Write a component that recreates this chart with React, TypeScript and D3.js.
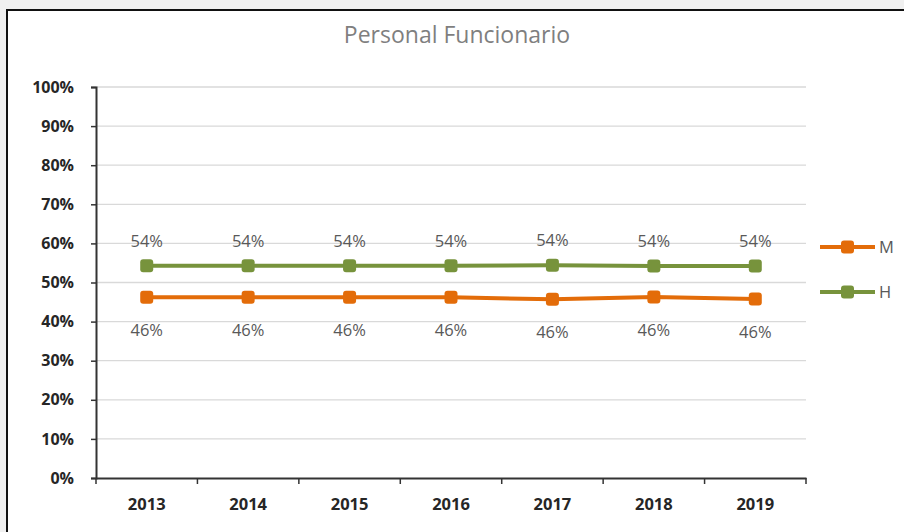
import React, { useRef, useEffect } from 'react';
import * as d3 from 'd3';

const years = ['2013', '2014', '2015', '2016', '2017', '2018', '2019'];
const mujeres = [46.2, 46.2, 46.2, 46.2, 45.7, 46.3, 45.8];
const hombres = [54.3, 54.3, 54.3, 54.3, 54.4, 54.2, 54.2];
const yTicks = [0, 10, 20, 30, 40, 50, 60, 70, 80, 90, 100];

const series = [
  { name: 'M', values: mujeres, color: '#E36C09', labelPos: 'below' },
  { name: 'H', values: hombres, color: '#77933C', labelPos: 'above' },
];

const width = 904;
const height = 532;
const font = '"Open Sans", "Noto Sans", sans-serif';

const App = () => {
  const svgRef = useRef<SVGSVGElement>(null);

  useEffect(() => {
    const svg = d3.select(svgRef.current);
    svg.selectAll('*').remove();

    // background + chart frame
    svg.append('rect').attr('width', width).attr('height', height).attr('fill', '#f0f0f0');
    svg.append('rect')
      .attr('x', 7).attr('y', 10)
      .attr('width', width).attr('height', height)
      .attr('fill', '#fff').attr('stroke', '#111').attr('stroke-width', 2);

    const margin = { top: 87, left: 96, right: 98, bottom: 54 };
    const x = d3.scaleBand().domain(years).range([margin.left, width - margin.right]);
    const y = d3.scaleLinear().domain([0, 100]).range([height - margin.bottom, margin.top]);

    svg.append('text')
      .attr('x', 457).attr('y', 43)
      .attr('text-anchor', 'middle')
      .attr('font-family', font).attr('font-size', 23)
      .attr('fill', '#7f7f7f')
      .text('Personal Funcionario');

    // gridlines
    svg.append('g').selectAll('line')
      .data(yTicks.filter(d => d > 0))
      .join('line')
      .attr('x1', margin.left).attr('x2', width - margin.right)
      .attr('y1', d => y(d)).attr('y2', d => y(d))
      .attr('stroke', '#d9d9d9').attr('stroke-width', 1.3);

    const yAxis = svg.append('g')
      .attr('transform', `translate(${margin.left},0)`)
      .call(d3.axisLeft(y).tickValues(yTicks).tickFormat(d => `${d}%`).tickSize(5).tickPadding(17));
    yAxis.select('.domain').attr('stroke', '#333').attr('stroke-width', 2);
    yAxis.selectAll('.tick line').attr('stroke', '#333').attr('stroke-width', 1.5);
    yAxis.selectAll('text')
      .attr('font-family', font).attr('font-size', 16).attr('font-weight', 'bold').attr('fill', '#262626');

    const xAxis = svg.append('g')
      .attr('transform', `translate(0,${y(0)})`)
      .call(d3.axisBottom(x).tickSize(0).tickPadding(20));
    xAxis.select('.domain').attr('stroke', '#333').attr('stroke-width', 2);
    xAxis.selectAll('text')
      .attr('font-family', font).attr('font-size', 16.5).attr('font-weight', 'bold').attr('fill', '#262626');
    // category boundary ticks
    const bounds = years.map(d => x(d) as number).concat([width - margin.right]);
    xAxis.append('g').selectAll('line')
      .data(bounds)
      .join('line')
      .attr('x1', d => d).attr('x2', d => d)
      .attr('y1', 0).attr('y2', 6)
      .attr('stroke', '#333').attr('stroke-width', 1.5);

    const cx = (i: number) => (x(years[i]) as number) + x.bandwidth() / 2;
    const line = d3.line<number>().x((_, i) => cx(i)).y(d => y(d));

    series.forEach(s => {
      const g = svg.append('g');
      g.append('path')
        .datum(s.values)
        .attr('d', line)
        .attr('fill', 'none')
        .attr('stroke', s.color)
        .attr('stroke-width', 4)
        .attr('stroke-linejoin', 'round');
      g.selectAll('rect')
        .data(s.values)
        .join('rect')
        .attr('x', (_, i) => cx(i) - 6.5)
        .attr('y', d => y(d) - 6.5)
        .attr('width', 13).attr('height', 13)
        .attr('rx', 3)
        .attr('fill', s.color);
      g.selectAll('text')
        .data(s.values)
        .join('text')
        .attr('x', (_, i) => cx(i))
        .attr('y', d => s.labelPos === 'above' ? y(d) - 19 : y(d) + 39)
        .attr('text-anchor', 'middle')
        .attr('font-family', font).attr('font-size', 16.5)
        .attr('fill', '#595959')
        .text(d => `${Math.round(d)}%`);
    });

    // legend
    const legend = svg.append('g')
      .selectAll('g')
      .data(series)
      .join('g')
      .attr('transform', (_, i) => `translate(820,${247 + i * 45})`);
    legend.append('line')
      .attr('x1', 0).attr('x2', 55)
      .attr('stroke', d => d.color).attr('stroke-width', 4);
    legend.append('rect')
      .attr('x', 21).attr('y', -6.5)
      .attr('width', 13).attr('height', 13).attr('rx', 3)
      .attr('fill', d => d.color);
    legend.append('text')
      .attr('x', 59).attr('y', 6)
      .attr('font-family', font).attr('font-size', 16.5)
      .attr('fill', '#595959')
      .text(d => d.name);
  }, []);

  return (
    <svg ref={svgRef} width={width} height={height}
      style={{ position: 'absolute', left: 0, top: 0 }}></svg>
  );
};

export default App;
